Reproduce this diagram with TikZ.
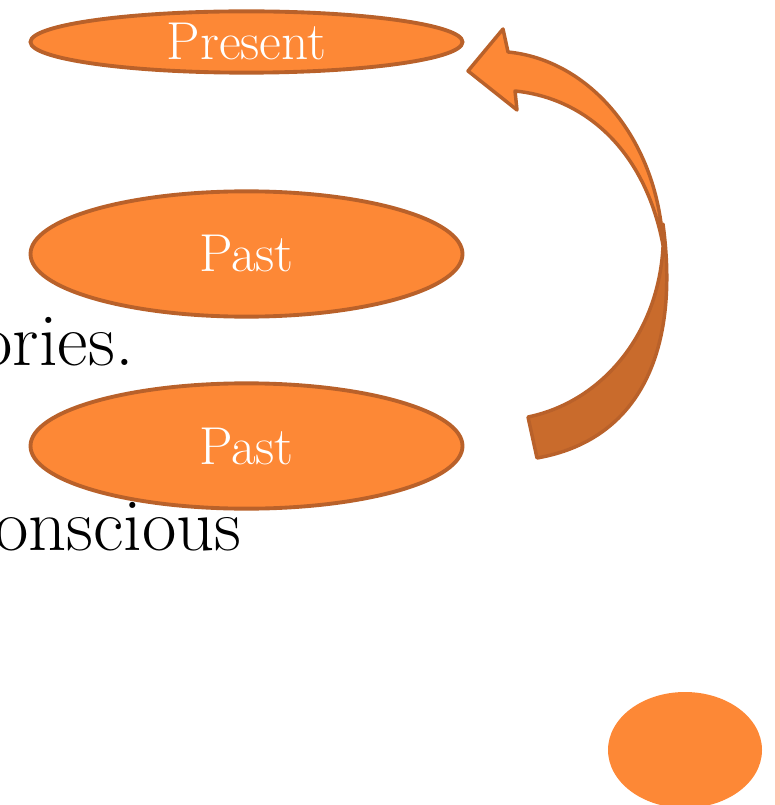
\documentclass[tikz,border=0pt]{standalone}
\usepackage{fontspec}
\usetikzlibrary{shapes.geometric}
\definecolor{orfill}{HTML}{FD8836}
\definecolor{orline}{HTML}{B9612A}
\definecolor{ordark}{HTML}{C96B2C}
\definecolor{strip}{HTML}{FFC6B4}
\tikzset{
  ovalbox/.style={ellipse, draw=orline, fill=orfill, line width=2.9pt, inner sep=0pt,
    minimum width=324pt, text=white, font=\fontsize{40}{48}\selectfont},
  bodytext/.style={inner sep=0pt, font=\fontsize{56}{67}\selectfont, text=black},
  arrowpart/.style={draw=orline, line width=2.6pt, line join=round}
}
\begin{document}
\begin{tikzpicture}[x=0.75pt,y=-0.75pt]
\useasboundingbox (0,0) rectangle (780,805);
\clip (0,0) rectangle (780,805);
% right strip
\fill[strip] (775,0) rectangle (780,805);
% body text (cropped)
\node[bodytext, anchor=base east] (t1) at (134,365) {ories.};
\node[bodytext, anchor=base east] (t2) at (242,550) {onscious};
% ovals
\node[ovalbox, minimum height=46pt] (present) at (246.5,42) {Present};
\node[ovalbox, minimum height=94pt] (past1) at (246.5,254) {Past};
\node[ovalbox, minimum height=94pt] (past2) at (246.5,446) {Past};
% bottom-right blob
\fill[orfill] (685,750) ellipse [x radius=77, y radius=58];
% curved arrow: back (dark) part
\draw[arrowpart, fill=ordark] (528,417) -- (537,458)
  .. controls (640,440) and (680,350) .. (663,224)
  .. controls (668,320) and (610,400) .. (528,417) -- cycle;
% curved arrow: front (light) part with head
\draw[arrowpart, fill=orfill] (515,91) -- (517,110) -- (468,71) -- (503,29) -- (508,52)
  .. controls (590,60) and (658,140) .. (663,245)
  .. controls (645,150) and (585,98) .. (515,91) -- cycle;
\end{tikzpicture}
\end{document}
